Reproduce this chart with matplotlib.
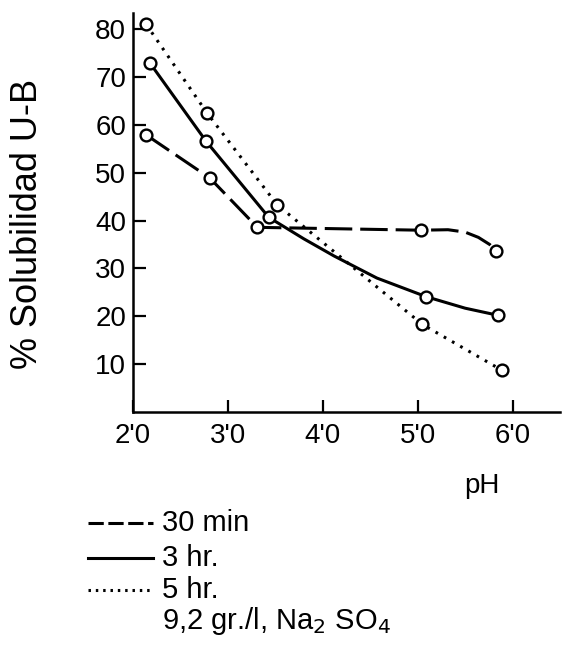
import matplotlib
matplotlib.use("Agg")
import matplotlib.pyplot as plt
from matplotlib.lines import Line2D

plt.rcParams['font.family'] = ['Liberation Sans', 'DejaVu Sans']

min30_x = [2.14, 2.81, 3.31, 5.03, 5.83]
min30_y = [57.9, 48.9, 38.6, 38.0, 33.6]
min30_line_x = [2.14, 2.81, 3.31, 5.03, 5.32, 5.50, 5.64, 5.76, 5.83]
min30_line_y = [57.9, 48.9, 38.6, 38.0, 38.1, 37.6, 36.5, 35.0, 33.6]

# 3 hr (solid)
hr3_x = [2.18, 2.77, 3.43, 5.09, 5.85]
hr3_y = [72.9, 56.6, 40.7, 24.1, 20.2]
hr3_line_x = [2.18, 2.77, 3.43, 3.80, 4.12, 4.57, 5.09, 5.50, 5.85]
hr3_line_y = [72.9, 56.6, 40.7, 36.2, 32.6, 28.0, 24.1, 21.7, 20.2]

# 5 hr (dotted)
hr5_x = [2.14, 2.78, 3.52, 5.05, 5.89]
hr5_y = [81.0, 62.5, 43.3, 18.3, 8.7]

xticks = [2, 3, 4, 5, 6]
xtick_labels = ["2'0", "3'0", "4'0", "5'0", "6'0"]
yticks = [10, 20, 30, 40, 50, 60, 70, 80]

legend_labels = ["30 min", "3 hr.", "5 hr."]
note = "9,2 gr./l, Na$_2$ SO$_4$"

W, H = 566, 648
fig = plt.figure(figsize=(W / 100, H / 100), dpi=100)
ax = fig.add_axes([133 / W, 1 - 412 / H, (560 - 133) / W, (412 - 13) / H])

lw = 2.2
mk = dict(marker='o', markersize=8.5, markerfacecolor='white',
          markeredgecolor='black', markeredgewidth=1.7, linestyle='none', zorder=5)

ax.plot(min30_line_x, min30_line_y, color='black', lw=lw, dashes=(9, 2.6))
ax.plot(hr3_line_x, hr3_line_y, color='black', lw=lw)
ax.plot(hr5_x, hr5_y, color='black', lw=lw, dashes=(0.9, 2.2))
ax.plot(min30_x, min30_y, **mk)
ax.plot(hr3_x, hr3_y, **mk)
ax.plot(hr5_x, hr5_y, **mk)

ax.set_xlim(2.0, 6.5)
ax.set_ylim(0, 83.4)
ax.set_xticks(xticks)
ax.set_xticklabels(xtick_labels)
ax.set_yticks(yticks)
ax.tick_params(direction='in', length=9, width=1.6, labelsize=20)
ax.tick_params(axis='x', pad=8)
ax.tick_params(axis='y', pad=5)
for s in ['top', 'right']:
    ax.spines[s].set_visible(False)
for s in ['left', 'bottom']:
    ax.spines[s].set_linewidth(1.8)

fig.text(28 / W, 1 - 224 / H, "% Solubilidad U-B", rotation=90,
         ha='center', va='center', fontsize=26)
fig.text(482 / W, 1 - 493 / H, "pH", ha='center', va='baseline', fontsize=20)

# legend drawn by hand, like the original figure caption
leg_y = [523, 558, 590]
styles = [dict(dashes=(5, 1.5)), dict(), dict(dashes=(0.8, 1.6))]
for yy, lab, st in zip(leg_y, legend_labels, styles):
    fig.add_artist(Line2D([88 / W, 153 / W], [1 - yy / H, 1 - yy / H],
                          color='black', lw=lw, **st))
    fig.text(162 / W, 1 - yy / H, lab, ha='left', va='center', fontsize=21)
fig.text(162 / W, 1 - 621 / H, note, ha='left', va='center', fontsize=21)

fig.savefig("out.png", dpi=100)
